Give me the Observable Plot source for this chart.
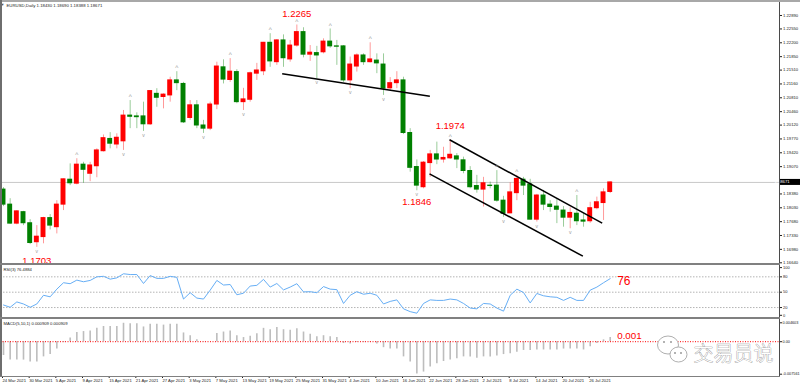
<!DOCTYPE html>
<html><head><meta charset="utf-8">
<script src="https://cdn.jsdelivr.net/npm/d3@7"></script>
<script src="https://cdn.jsdelivr.net/npm/@observablehq/plot@0.6"></script>
<style>
html,body{margin:0;padding:0;background:#fff;}
#wrap{position:relative;width:800px;height:386px;overflow:hidden;background:#fff;font-family:"Liberation Sans",Arial,sans-serif;}
#wrap svg{position:absolute;left:0;overflow:visible;}
.ln{position:absolute;}
</style></head><body><div id="wrap"></div>
<script>
// ---------- data ----------
const chartTitle = "EURUSD,Daily 1.18430 1.18690 1.18388 1.18671";
const opens = [1.1849,1.1811,1.1763,1.1792,1.1764,1.1716,1.1729,1.1777,1.1754,1.1811,
1.1874,1.1864,1.1912,1.1889,1.1908,1.1946,1.1977,1.1963,1.1971,1.2036,
1.2034,1.2034,1.2014,1.2091,1.2083,1.2087,1.2125,1.2116,1.2030,1.2062,
1.2011,1.2003,1.2064,1.2158,1.2126,1.2146,1.2070,1.2076,1.2142,1.2148,
1.2220,1.2171,1.2226,1.2178,1.2213,1.2247,1.2190,1.2194,1.2196,1.2223,
1.2211,1.2211,1.2125,1.2160,1.2188,1.2171,1.2175,1.2165,1.2105,1.2118,
1.2125,1.1992,1.1906,1.1855,1.1916,1.1938,1.1925,1.1928,1.1933,1.1923,
1.1896,1.1858,1.1849,1.1859,1.1859,1.1821,1.1789,1.1840,1.1874,1.1862,
1.1773,1.1834,1.1811,1.1806,1.1796,1.1778,1.1788,1.1771,1.1769,1.1802,
1.1815,1.1843];
const highs = [1.1854,1.1826,1.1796,1.1794,1.1773,1.1758,1.1779,1.1786,1.1821,1.1876,
1.1914,1.1927,1.1918,1.1918,1.1952,1.1987,1.1993,1.1990,1.2049,1.2074,
1.2043,1.2070,1.2099,1.2104,1.2091,1.2133,1.2147,1.2120,1.2074,1.2074,
1.2024,1.2070,1.2171,1.2177,1.2180,1.2152,1.2105,1.2146,1.2168,1.2221,
1.2243,1.2228,1.2240,1.2226,1.2265,1.2258,1.2213,1.2211,1.2230,1.2255,
1.2226,1.2213,1.2184,1.2192,1.2192,1.2220,1.2192,1.2192,1.2132,1.2147,
1.2133,1.2003,1.1924,1.1920,1.1948,1.1969,1.1956,1.1974,1.1940,1.1931,
1.1907,1.1885,1.1880,1.1868,1.1897,1.1832,1.1866,1.1885,1.1880,1.1875,
1.1837,1.1847,1.1821,1.1824,1.1806,1.1803,1.1834,1.1788,1.1817,1.1830,
1.1851,1.1869];
const lows = [1.1806,1.1761,1.1760,1.1758,1.1710,1.1703,1.1712,1.1747,1.1737,1.1796,
1.1859,1.1861,1.1865,1.1869,1.1879,1.1944,1.1952,1.1952,1.1948,1.2003,
1.2003,1.1996,1.2011,1.2057,1.2053,1.2070,1.2099,1.2016,1.2024,1.2003,
1.1991,1.1998,1.2051,1.2116,1.2120,1.2066,1.2049,1.2070,1.2125,1.2137,
1.2158,1.2163,1.2158,1.2171,1.2209,1.2182,1.2173,1.2129,1.2192,1.2206,
1.2163,1.2120,1.2104,1.2146,1.2163,1.2169,1.2142,1.2087,1.2099,1.2104,
1.1988,1.1893,1.1846,1.1851,1.1880,1.1912,1.1916,1.1925,1.1902,1.1889,
1.1851,1.1840,1.1805,1.1851,1.1817,1.1779,1.1788,1.1821,1.1834,1.1772,
1.1767,1.1796,1.1792,1.1763,1.1754,1.1750,1.1758,1.1754,1.1764,1.1798,
1.1771,1.1839];
const closes = [1.1811,1.1763,1.1794,1.1764,1.1714,1.1730,1.1777,1.1758,1.1811,1.1875,
1.1865,1.1912,1.1899,1.1910,1.1948,1.1979,1.1965,1.1980,1.2036,1.2033,
1.2032,1.2014,1.2098,1.2081,1.2089,1.2125,1.2118,1.2019,1.2062,1.2011,
1.2003,1.2064,1.2160,1.2127,1.2147,1.2070,1.2077,1.2143,1.2150,1.2220,
1.2173,1.2226,1.2181,1.2213,1.2247,1.2190,1.2195,1.2188,1.2223,1.2211,
1.2210,1.2125,1.2165,1.2188,1.2171,1.2178,1.2168,1.2104,1.2118,1.2125,
1.1992,1.1904,1.1859,1.1917,1.1938,1.1925,1.1929,1.1937,1.1925,1.1896,
1.1855,1.1849,1.1865,1.1858,1.1821,1.1788,1.1842,1.1876,1.1859,1.1773,
1.1834,1.1811,1.1805,1.1798,1.1778,1.1790,1.1769,1.1768,1.1802,1.1817,
1.1842,1.18671];
const rsiValues = [25,20.6,31,27,20.6,27,44,41,56,68.5,
66.6,73.6,70.4,73,80,81,75.5,78,86,84.5,
84.5,67,82.5,77,77,81,79,36.6,49,38.5,
36.6,54,73,64,65,45,48,62,63.4,75,
60,67,54.5,60,66.6,50.6,51,49,61,56,
55,28,44,51,46,48,44,27,32,35,
17.5,12,9,28,35,34,34,36.6,35,28,
19,17.5,28,27,19,13,44,56,49.4,29,
47.5,43,41,40,34,40,34,34,54,60,
68.5,76.49];
const macdValues = [-0.0030,-0.0040,-0.0040,-0.0040,-0.0044,-0.0044,-0.0033,-0.0028,-0.0016,-0.0002,
0.0008,0.0020,0.0022,0.0023,0.0029,0.0033,0.0033,0.0033,0.0040,0.0039,
0.0039,0.0032,0.0038,0.0038,0.0036,0.0038,0.0038,0.0019,0.0013,0.0004,
-0.0001,0.0000,0.0018,0.0021,0.0023,0.0013,0.0009,0.0012,0.0017,0.0029,
0.0026,0.0031,0.0026,0.0025,0.0028,0.0021,0.0016,0.0011,0.0013,0.0011,
0.0009,-0.0004,-0.0005,-0.0002,-0.0002,-0.0001,-0.0005,-0.0013,-0.0016,-0.0016,
-0.0033,-0.0044,-0.0070,-0.0066,-0.0055,-0.0048,-0.0043,-0.0040,-0.0037,-0.0033,
-0.0033,-0.0036,-0.0033,-0.0033,-0.0031,-0.0028,-0.0026,-0.0023,-0.0019,-0.0019,
-0.0018,-0.0018,-0.0018,-0.0018,-0.0016,-0.0016,-0.0016,-0.0018,-0.0011,-0.0004,
0.0004,0.000909];
const dateLabels = ["24 Mar 2021","30 Mar 2021","5 Apr 2021","9 Apr 2021","15 Apr 2021","21 Apr 2021","27 Apr 2021","3 May 2021","7 May 2021","13 May 2021","19 May 2021","25 May 2021","31 May 2021","4 Jun 2021","10 Jun 2021","16 Jun 2021","22 Jun 2021","28 Jun 2021","2 Jul 2021","8 Jul 2021","14 Jul 2021","20 Jul 2021","26 Jul 2021"];
const priceTicks = [1.22890,1.22550,1.22200,1.21850,1.21510,1.21160,1.20810,1.20460,1.20120,1.19770,1.19420,1.19070,1.18380,1.18030,1.17680,1.17330,1.16980,1.16640];
const rsiTicks = [100,80,50,20,0];
const rsiLevels = [80,50,20];
const macdTicks = [0.004603,0,-0.007561];
const upFractals = [11,19,26,34,40,44,49,55,67,74,77,86];
const downFractals = [5,18,21,30,36,47,52,57,62,75,80,85];
const lineX1 = [41.8,66.9,63.9];
const lineY1 = [1.21416,1.19749,1.18889];
const lineX2 = [63.95,89.8,86.9];
const lineY2 = [1.20850,1.17641,1.16807];
const annoText = ["1.2265","1.1974","1.1846","1.1703"];
const annoBar = [44,67,62,5];
const lastPrice = 1.18671;
const rsiTitle = "RSI(3) 76.4884";
const macdTitle = "MACD(5,10,1) 0.000909 0.000909";
const rsiNote = "76";
const macdNote = "0.001";
const watermark = "交易员说";

// ---------- build ----------
const wrap = document.getElementById("wrap");
const FONT = '"Liberation Sans", Arial, sans-serif';
const baseStyle = {fontFamily: FONT, fontSize: "4.2px", color: "#222", background: "transparent", overflow: "visible"};
const X = {type: "linear", domain: [0, 91], range: [3, 609.7]};
const bars = opens.map((o, i) => ({i, open: o, high: highs[i], low: lows[i], close: closes[i], up: closes[i] >= o}));
const lines = lineX1.map((x, k) => ({x1: x, y1: lineY1[k], x2: lineX2[k], y2: lineY2[k]}));
const upF = upFractals.map(i => bars[i]);
const dnF = downFractals.map(i => bars[i]);
const annos = annoText.map((t, k) => ({t, i: annoBar[k], p: k < 2 ? highs[annoBar[k]] : lows[annoBar[k]]}));
const annoDy = [-11.5, -14.5, 11.5, 14];

function place(svg, top) { svg.style.top = top + "px"; wrap.appendChild(svg); return svg; }

const main = Plot.plot({
  width: 800, height: 264, marginLeft: 0, marginRight: 21, marginTop: 3, marginBottom: 0,
  style: baseStyle,
  x: {...X, axis: null},
  y: {domain: [1.16597, 1.23193], range: [264, 3]},
  marks: [
    Plot.ruleY([lastPrice], {stroke: "#c8c8c8", strokeWidth: 1}),
    Plot.ruleX(bars, {x: "i", y1: "low", y2: "high", stroke: d => d.up ? "#ff0000" : "#008000", strokeOpacity: 0.4, strokeWidth: 1}),
    Plot.rect(bars, {x1: d => d.i - 0.37, x2: d => d.i + 0.37, y1: "open", y2: "close", fill: d => d.up ? "#ff0000" : "#008000", insetTop: -0.5, insetBottom: -0.5}),
    Plot.link(lines, {x1: "x1", y1: "y1", x2: "x2", y2: "y2", stroke: "#000", strokeWidth: 1.5}),
    Plot.text(upF, {x: "i", y: "high", text: () => "^", dy: -3.5, fill: "#9a9a9a", fontSize: 6.5}),
    Plot.text(dnF, {x: "i", y: "low", text: () => "v", dy: 4, fill: "#9a9a9a", fontSize: 5}),
    ...annos.map((a, k) => Plot.text([a], {x: "i", y: "p", text: "t", dy: annoDy[k], fill: "#ff0000", fontSize: 9.5})),
    Plot.axisY(priceTicks, {anchor: "right", tickSize: 2, tickPadding: 1.5, tickFormat: d => d.toFixed(5), fontSize: 4.2, label: null}),
    Plot.text([chartTitle], {frameAnchor: "top-left", dx: 6, dy: 0.5, fontSize: 4.3, fill: "#222"})
  ]
});
place(main, 0);
{
  const ys = main.scale("y").apply(lastPrice);
  const g = d3.select(main).append("g");
  g.append("rect").attr("x", 779).attr("y", ys - 3).attr("width", 21).attr("height", 6).attr("fill", "#000");
  g.append("text").attr("x", 782).attr("y", ys).attr("dy", "0.35em").attr("fill", "#fff").attr("font-size", 4.2).text(lastPrice.toFixed(5));
  d3.select(main).append("text").attr("x", 2.5).attr("y", 5.5).attr("font-size", 4).attr("fill", "#555").text("▼");
}

const rsiPlot = Plot.plot({
  width: 800, height: 53, marginLeft: 0, marginRight: 21, marginTop: 1, marginBottom: 1,
  style: baseStyle,
  x: {...X, axis: null},
  y: {domain: [0, 100], range: [52.3, 1.1]},
  marks: [
    Plot.ruleY(rsiLevels, {stroke: "#b4b4b4", strokeDasharray: "1.5,1.5"}),
    Plot.line(rsiValues, {x: (d, i) => i, y: d => d, stroke: "#66aef5", strokeWidth: 1}),
    Plot.axisY(rsiTicks.slice(0, 1), {anchor: "right", tickSize: 2, tickPadding: 1.5, dy: 1, fontSize: 4, label: null}),
    Plot.axisY(rsiTicks.slice(1, 4), {anchor: "right", tickSize: 2, tickPadding: 1.5, fontSize: 4, label: null}),
    Plot.axisY(rsiTicks.slice(4), {anchor: "right", tickSize: 2, tickPadding: 1.5, dy: -2.5, fontSize: 4, label: null}),
    Plot.text([rsiTitle], {frameAnchor: "top-left", dx: 3, dy: 1.5, fontSize: 4.2, fill: "#222"}),
    Plot.text([rsiNote], {x: 91, y: rsiValues[91], dx: 7, dy: 2.5, textAnchor: "start", fill: "#ff0000", fontSize: 12})
  ]
});
place(rsiPlot, 265);

const macdFmt = d => d === 0 ? "0.00" : d.toFixed(6);
const macdPlot = Plot.plot({
  width: 800, height: 67, marginLeft: 0, marginRight: 21, marginTop: 1, marginBottom: 10,
  style: baseStyle,
  x: X,
  y: {domain: [-0.007561, 0.004603], range: [57, 1]},
  marks: [
    Plot.ruleX(macdValues, {x: (d, i) => i, y1: 0, y2: d => d, stroke: "#bdbdbd", strokeWidth: 1.6}),
    Plot.ruleY([0], {stroke: "#ff0000", strokeDasharray: "1,1.5", strokeWidth: 1}),
    Plot.axisY(macdTicks.slice(0, 1), {anchor: "right", tickSize: 2, tickPadding: 1, tickFormat: macdFmt, dy: 2.3, fontSize: 3.8, label: null}),
    Plot.axisY(macdTicks.slice(1, 2), {anchor: "right", tickSize: 2, tickPadding: 1, tickFormat: macdFmt, fontSize: 3.8, label: null}),
    Plot.axisY(macdTicks.slice(2), {anchor: "right", tickSize: 2, tickPadding: 1, tickFormat: macdFmt, dy: -2.3, fontSize: 3.8, label: null}),
    Plot.axisX(dateLabels.map((d, k) => k * 4), {anchor: "bottom", tickSize: 2, tickPadding: 1, tickFormat: d => dateLabels[d / 4], textAnchor: "start", dx: -1, fontSize: 4.2, label: null}),
    Plot.text([macdTitle], {frameAnchor: "top-left", dx: 3, dy: 1.5, fontSize: 4.2, fill: "#222"}),
    Plot.text([macdNote], {x: 91, y: macdValues[91], dx: 7, dy: -2, textAnchor: "start", fill: "#ff0000", fontSize: 9.8}),
    Plot.text([watermark], {frameAnchor: "bottom-right", dx: -6, dy: -16, textAnchor: "end", fontSize: 20, fontWeight: 300, fontFamily: '"Noto Sans CJK SC", sans-serif', fill: "#fff", stroke: "#8e8e8e", strokeWidth: 0.7})
  ]
});
place(macdPlot, 319);
{
  const g = d3.select(macdPlot).append("g").attr("fill", "#fff").attr("stroke", "#9a9a9a").attr("stroke-width", 0.8);
  g.append("ellipse").attr("cx", 668).attr("cy", 26).attr("rx", 10.5).attr("ry", 9);
  g.append("ellipse").attr("cx", 678.5).attr("cy", 35.5).attr("rx", 8.5).attr("ry", 7.5);
  const e = d3.select(macdPlot).append("g").attr("fill", "#9a9a9a");
  [[664, 23], [671, 23], [675, 34], [681, 34]].forEach(([cx, cy]) => e.append("circle").attr("cx", cx).attr("cy", cy).attr("r", 1));
}

// frame lines
function ln(l, t, w, h, c) { const d = document.createElement("div"); d.className = "ln"; Object.assign(d.style, {left: l + "px", top: t + "px", width: w + "px", height: h + "px", background: c}); wrap.appendChild(d); }
ln(0, 0, 800, 2, "#a8a8a8");
ln(0, 0, 1.5, 377, "#6e6e6e");
ln(779, 2, 1, 374, "#4a4a4a");
ln(0, 263, 780, 2, "#808080");
ln(0, 317, 780, 2, "#808080");
ln(0, 375.5, 780, 1.5, "#808080");
</script></body></html>
